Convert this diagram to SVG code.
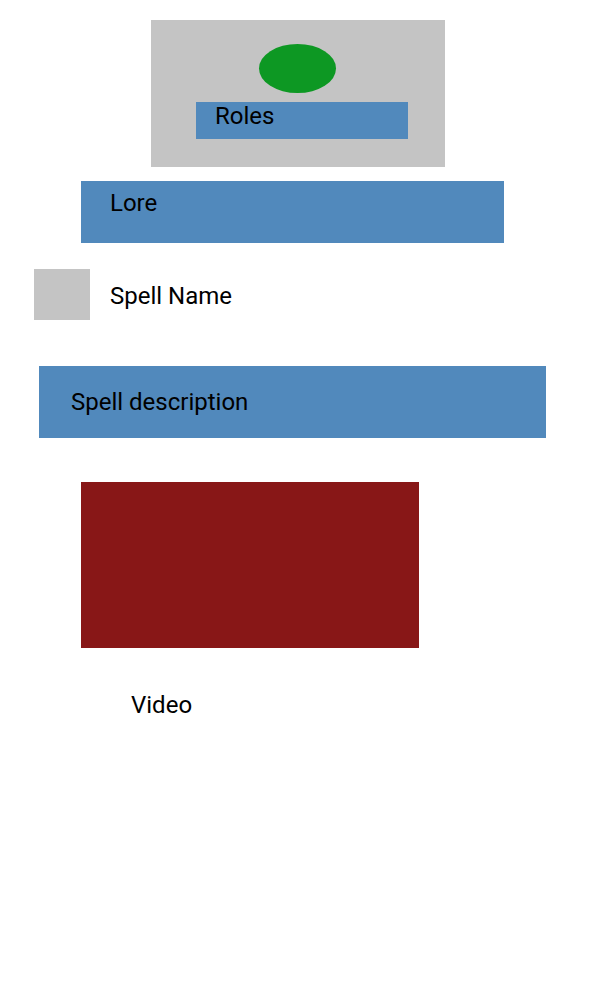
<svg xmlns="http://www.w3.org/2000/svg" width="596" height="1006" viewBox="0 0 596 1006">
<style>
.gray{fill:#c4c4c4}
.blue{fill:#5189bc}
.t{font-family:Roboto,"Liberation Sans",sans-serif;font-size:24px;fill:#000}
</style>
<rect width="596" height="1006" fill="#fff"/>
<g id="roles-card">
<rect class="gray" x="151" y="20" width="294" height="147"/>
<ellipse cx="297.5" cy="68.5" rx="38.5" ry="24.5" fill="#0d9823"/>
<rect class="blue" x="196" y="102" width="212" height="37"/>
<text class="t" x="215" y="124">Roles</text>
</g>
<g id="lore">
<rect class="blue" x="81" y="181" width="423" height="62"/>
<text class="t" x="110" y="211">Lore</text>
</g>
<g id="spell-name">
<rect class="gray" x="34" y="269" width="56" height="51"/>
<text class="t" x="110" y="304">Spell Name</text>
</g>
<g id="spell-description">
<rect class="blue" x="39" y="366" width="507" height="72"/>
<text class="t" x="71" y="410">Spell description</text>
</g>
<g id="video">
<rect x="81" y="482" width="338" height="166" fill="#881717"/>
<text class="t" x="131" y="713">Video</text>
</g>
<g id="connectors"/>
</svg>
